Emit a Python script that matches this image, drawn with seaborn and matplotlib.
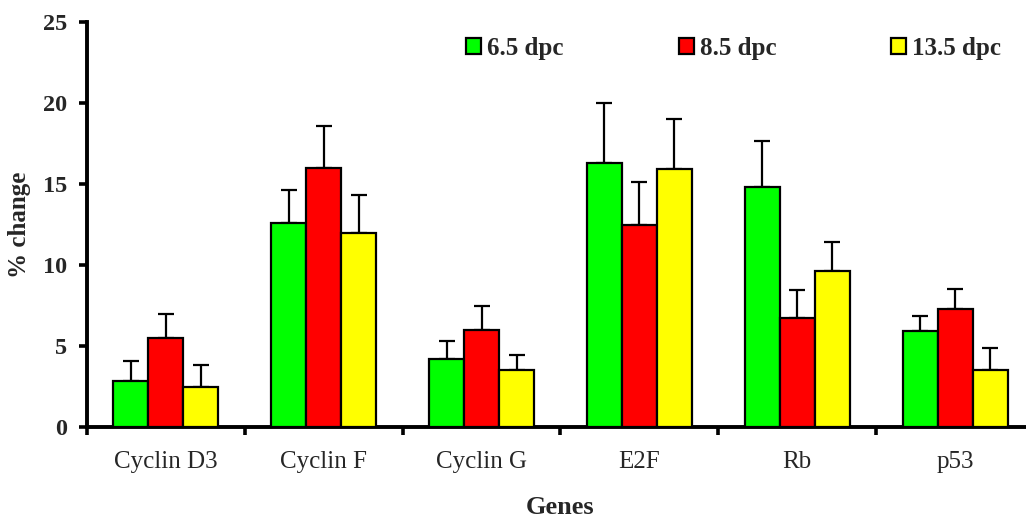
import numpy as np
import pandas as pd
import matplotlib
matplotlib.use("Agg")
import matplotlib.pyplot as plt
import seaborn as sns

genes = ["Cyclin D3", "Cyclin F", "Cyclin G", "E2F", "Rb", "p53"]
stages = ["6.5 dpc", "8.5 dpc", "13.5 dpc"]
val_65 = [2.85, 12.6, 4.2, 16.3, 14.8, 5.9]
val_85 = [5.5, 16.0, 6.0, 12.5, 6.7, 7.3]
val_135 = [2.5, 12.0, 3.5, 15.9, 9.6, 3.5]
err_65 = [1.2, 2.05, 1.1, 3.7, 2.85, 0.95]
err_85 = [1.5, 2.6, 1.5, 2.65, 1.75, 1.2]
err_135 = [1.35, 2.3, 0.95, 3.1, 1.8, 1.35]
colors = ["#00FF00", "#FF0000", "#FFFF00"]
yticks = [0, 5, 10, 15, 20, 25]

sns.set_theme(style="ticks")
plt.rcParams["font.family"] = ["Liberation Serif", "DejaVu Serif"]

df = pd.DataFrame({
    "gene": genes * 3,
    "stage": [s for s in stages for _ in genes],
    "value": val_65 + val_85 + val_135,
})
errs = [err_65, err_85, err_135]

W, H = 1026, 521
fig = plt.figure(figsize=(W / 100, H / 100), dpi=100)
ax = fig.add_axes([87 / W, 94 / H, (1034 - 87) / W, 405 / H])

sns.barplot(data=df, x="gene", y="value", hue="stage", order=genes,
            hue_order=stages, palette=colors, width=0.665, errorbar=None,
            edgecolor="black", linewidth=1.6, saturation=1, ax=ax, zorder=3)

for cont, err in zip(ax.containers, errs):
    for bar, e in zip(cont, err):
        x = bar.get_x() + bar.get_width() / 2
        h = bar.get_height()
        ax.errorbar(x, h, yerr=[[0], [e]], fmt="none", ecolor="black",
                    elinewidth=1.6, capsize=5.6, capthick=1.6, zorder=2)

handles, labels = ax.get_legend_handles_labels()
if ax.get_legend() is not None:
    ax.get_legend().remove()
for hd in handles:
    hd.set_edgecolor("black")
    hd.set_linewidth(1.6)
ax.legend(handles, labels, ncol=3, loc="center left",
          bbox_to_anchor=(466 / W, 1 - 48 / H), bbox_transform=fig.transFigure,
          frameon=False, borderpad=0, borderaxespad=0, handlelength=0.6,
          handleheight=0.6, handletextpad=0.24, columnspacing=4.6,
          prop={"weight": "bold", "size": 18})

ax.set_xlim(-0.5, 5.5)
ax.set_ylim(0, 25)
ax.set_yticks(yticks)
ax.set_yticklabels([str(t) for t in yticks], fontweight="bold", fontsize=17.5)
ax.set_xticks(np.arange(-0.5, 6.0, 1.0))
ax.set_xticklabels([""] * 7)
ax.set_xticks(np.arange(len(genes)), minor=True)
ax.set_xticklabels(genes, minor=True, fontsize=18)
ax.tick_params(axis="x", which="minor", length=0, pad=17)
ax.tick_params(axis="both", which="major", direction="out", length=6,
               width=2.6, color="black")
ax.tick_params(axis="y", pad=8)
ax.set_xlabel("")
ax.set_ylabel("")
for s in ["top", "right"]:
    ax.spines[s].set_visible(False)
for s in ["left", "bottom"]:
    ax.spines[s].set_linewidth(2.8)
    ax.spines[s].set_color("black")

fig.text(20 / W, 1 - 225 / H, "% change", rotation=90, ha="center",
         va="center", fontweight="bold", fontsize=18)
fig.text(560 / W, 1 - 508 / H, "Genes", ha="center", va="center",
         fontweight="bold", fontsize=19)

fig.savefig("out.png", dpi=100)
